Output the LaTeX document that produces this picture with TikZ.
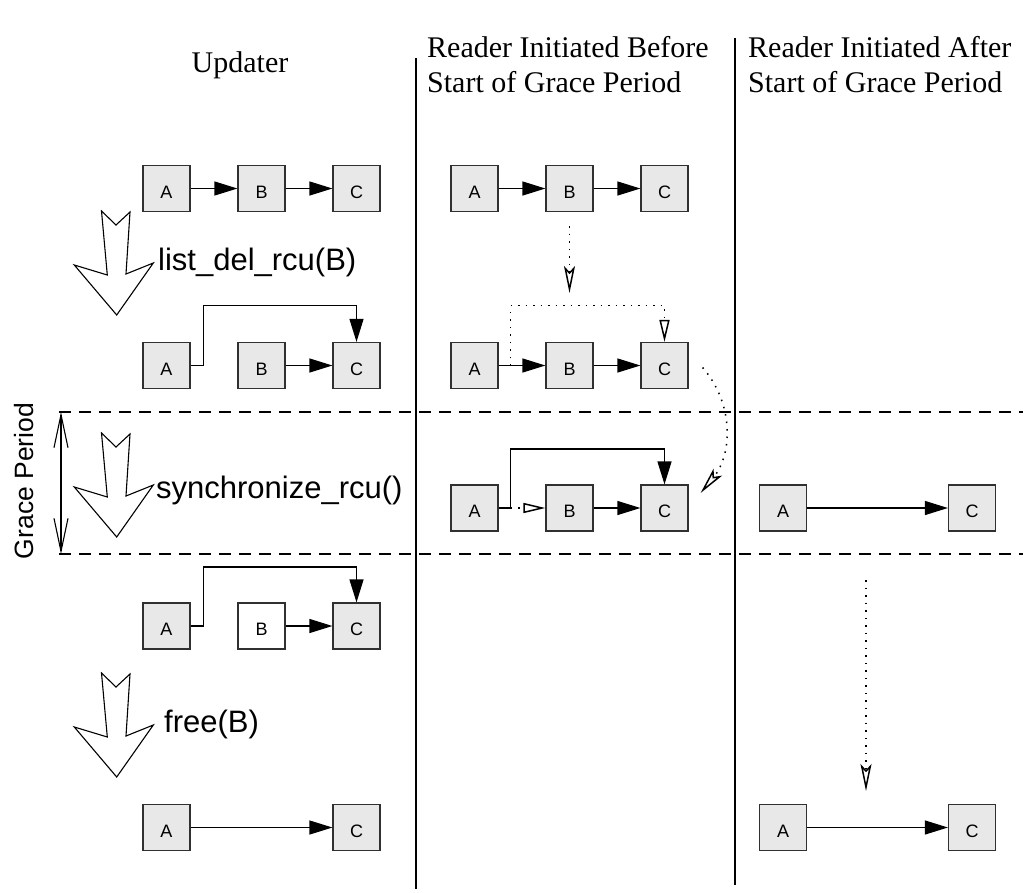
\documentclass[tikz,border=0pt]{standalone}
\usepackage{fontspec}
\setmainfont{Liberation Serif}
\newfontfamily\arialfont{Liberation Sans}
\usetikzlibrary{arrows.meta,calc}
\definecolor{boxgray}{HTML}{E8E8E8}
\definecolor{edgegray}{HTML}{303030}

\begin{document}
\begin{tikzpicture}[x=1pt,y=-1pt,
  box/.style={draw=edgegray, line width=1.2pt, fill=boxgray,
    minimum width=47pt, minimum height=46pt, inner sep=0pt,
    text height=19pt, text depth=0pt,
    font=\arialfont\fontsize{18}{20}\selectfont},
  freedbox/.style={box, fill=white},
  link/.style={line width=1.2pt, -{Triangle[length=23pt,width=14pt]}},
  dotline/.style={line width=1.5pt, dash pattern=on 1.5pt off 6pt},
  dotlink/.style={dotline, -{Triangle[open,length=22pt,width=10pt]}},
  dotmove/.style={dotline, -{Stealth[open,length=27pt,width=11pt,inset=6pt]}},
  colline/.style={line width=1.4pt},
  graceline/.style={line width=1.2pt, dash pattern=on 12pt off 8pt},
  header/.style={font=\fontsize{30}{35}\selectfont, align=left, inner sep=0pt},
  oplabel/.style={font=\arialfont\fontsize{31}{36}\selectfont, inner sep=0pt, anchor=base west},
  bigdown/.pic={
    \draw[line width=1.1pt, fill=white]
      (-14.5,0) -- (0,14) -- (14,1) -- (10,63) -- (37.3,52) -- (0.7,104)
      -- (-41.7,54) -- (-8.7,64) -- cycle;
  }
]
\useasboundingbox (0,0) rectangle (1023,892);

% column separators
\draw[colline] (416,58) coordinate (s1t) -- (416,889) coordinate (s1b);
\draw[colline] (735,38) coordinate (s2t) -- (735,885) coordinate (s2b);

% column headings
\node[header, anchor=base] (hu) at (240,72) {Updater};
\node[header, anchor=base west] (hb1) at (427,57) {Reader Initiated Before};
\node[header, anchor=base west] (hb2) at (427,92) {Start of Grace Period};
\node[header, anchor=base west] (ha1) at (748,57) {Reader Initiated After};
\node[header, anchor=base west] (ha2) at (748,92) {Start of Grace Period};

% grace period bounds
\draw[graceline] (59,412) coordinate (g1l) -- (1023,412) coordinate (g1r);
\draw[graceline] (59,554) coordinate (g2l) -- (1023,554) coordinate (g2r);
\coordinate (gtop) at (61,412);
\coordinate (gbot) at (61,554);
\draw[line width=1.1pt, {Straight Barb[length=33pt,width=14pt]}-{Straight Barb[length=33pt,width=14pt]}] (gtop) -- (gbot);
\node[font=\arialfont\fontsize{26.5}{30}\selectfont, rotate=90, inner sep=0pt] (gp) at (24,481) {Grace Period};

% ---------------- updater ----------------
\node[box] (u1a) at (166.5,188.5) {A};
\node[box] (u1b) at (261.5,188.5) {B};
\node[box] (u1c) at (356.5,188.5) {C};
\draw[link] (u1a) -- (u1b);
\draw[link] (u1b) -- (u1c);

\pic at (116,211) {bigdown};
\node[oplabel] (op1) at (158,270) {list\_del\_rcu(B)};

\node[box] (u2a) at (166.5,365.5) {A};
\node[box] (u2b) at (261.5,365.5) {B};
\node[box] (u2c) at (356.5,365.5) {C};
\draw[link] (u2a.east) -- ++(13,0) -- ++(0,-60) -| (u2c.north);
\draw[link] (u2b) -- (u2c);

\pic at (116,433) {bigdown};
\node[oplabel] (op2) at (156,498) {synchronize\_rcu()};

\node[box] (u3a) at (166.5,626) {A};
\node[freedbox] (u3b) at (261.5,626) {B};
\node[box] (u3c) at (356.5,626) {C};
\draw[link] (u3a.east) -- ++(13,0) -- ++(0,-59) -| (u3c.north);
\draw[link] (u3b) -- (u3c);

\pic at (116,673) {bigdown};
\node[oplabel] (op3) at (164,732) {free(B)};

\node[box] (u4a) at (166.5,827.5) {A};
\node[box] (u4c) at (356.5,827.5) {C};
\draw[link] (u4a) -- (u4c);

% ---------------- reader started before ----------------
\node[box] (r1a) at (474.5,188.5) {A};
\node[box] (r1b) at (569.5,188.5) {B};
\node[box] (r1c) at (664.5,188.5) {C};
\draw[link] (r1a) -- (r1b);
\draw[link] (r1b) -- (r1c);

\coordinate (r1d) at (569.5,293);
\draw[dotmove] ($(r1b.south)+(0,14)$) -- (r1d);

\node[box] (r2a) at (474.5,365.5) {A};
\node[box] (r2b) at (569.5,365.5) {B};
\node[box] (r2c) at (664.5,365.5) {C};
\draw[link] (r2a) -- (r2b);
\draw[link] (r2b) -- (r2c);
\draw[dotlink] ($(r2a.east)+(12,0)$) -- ++(0,-60) -| (r2c.north);

\node[box] (r3a) at (474.5,508) {A};
\node[box] (r3b) at (569.5,508) {B};
\node[box] (r3c) at (664.5,508) {C};
\draw[link] (r3a.east) -- ++(12,0) -- ++(0,-59) -| (r3c.north);
\draw[dotlink] ($(r3a.east)+(12,0)$) -- (r3b.west);
\draw[link] (r3b) -- (r3c);

% reader carried from the old list to the new one
\draw[dotmove] ($(r2c.east)+(14,2)$) .. controls (735,405) and (732,455) .. ($(r3c.east)+(12,-15)$);

% ---------------- reader started after ----------------
\node[box] (n3a) at (783,508) {A};
\node[box] (n3c) at (972,508) {C};
\draw[link] (n3a) -- (n3c);

\coordinate (n3d) at (866,580);
\coordinate (n4d) at (866,791);
\draw[dotmove] (n3d) -- (n4d);

\node[box] (n4a) at (783,827.5) {A};
\node[box] (n4c) at (972,827.5) {C};
\draw[link] (n4a) -- (n4c);
\end{tikzpicture}
\end{document}
